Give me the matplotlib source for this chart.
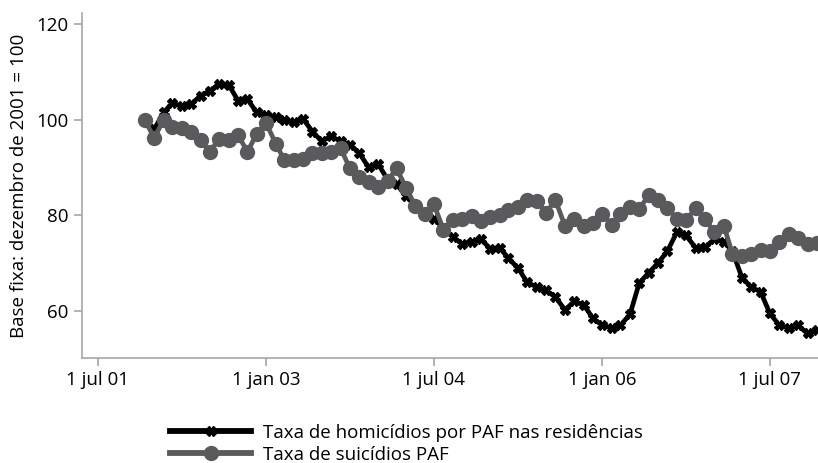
import matplotlib

# Use non-GUI backend
matplotlib.use('Agg')

import datetime as dt
import matplotlib.pyplot as plt
import matplotlib.dates as mdates

plt.rcParams['font.family'] = ['Open Sans', 'DejaVu Sans']

# -----------------------------
# DATA (monthly, dez 2001 = 100)
# -----------------------------

start_year = 2001
start_month = 12

homicidios = [
    100, 98, 101.5, 103.5, 102.8, 103.2, 105, 106, 107.5, 107.3,
    104, 104.3, 101.5, 101, 100.5, 100, 99.5, 100.2, 97.5, 95.5,
    96.5, 95.5, 94.8, 93, 90, 90.7, 87.5, 86.5, 84, 82,
    80.5, 79.3, 77.3, 75.5, 74, 74.5, 75, 73, 73.2, 71,
    69, 66, 65, 64.3, 63, 60.2, 62, 61.3, 58.5, 57,
    56.5, 57, 59.3, 65.8, 68, 70, 72.5, 76.5, 75.8, 73.2,
    73.3, 75, 74.5, 72.5, 67, 65, 64, 59.5, 57, 56.5,
    57, 55.3, 56,
]

suicidios = [
    100, 96.2, 100, 98.5, 98.3, 97.5, 95.8, 93.3, 96, 95.8,
    96.8, 93.3, 97, 99.3, 95, 91.6, 91.6, 91.8, 93, 93,
    93.2, 94, 89.8, 88, 87, 86, 87.2, 89.8, 85.8, 82,
    80.3, 82.3, 77, 79, 79.2, 79.8, 78.8, 79.7, 80, 81.2,
    81.7, 83.3, 83, 80.5, 83.2, 77.8, 79.2, 77.8, 78.3, 80.2,
    78, 80.3, 81.7, 81.3, 84.2, 83.3, 81.5, 79.3, 79, 81.5,
    79.3, 76.5, 77.8, 72, 71.5, 72, 72.8, 72.5, 74.5, 76,
    75.3, 74, 74.3,
]

tick_dates = [
    dt.date(2001, 7, 1), dt.date(2003, 1, 1), dt.date(2004, 7, 1),
    dt.date(2006, 1, 1), dt.date(2007, 7, 1),
]
tick_labels = ["1 jul 01", "1 jan 03", "1 jul 04", "1 jan 06", "1 jul 07"]

y_ticks = [60, 80, 100, 120]

labels = [
    "Taxa de homicídios por PAF nas residências",
    "Taxa de suicídios PAF",
]

# build month dates
dates = []
for k in range(len(homicidios)):
    m = start_month - 1 + k
    dates.append(dt.date(start_year + m // 12, m % 12 + 1, 1))

# -----------------------------
# PLOT
# -----------------------------

gray = "#5a5a5c"
axis_gray = "#a6a6a6"
fs = 13.5

fig = plt.figure(figsize=(8.18, 4.63), dpi=100)
ax = fig.add_axes([0.1, 0.227, 0.9, 0.745])

ax.plot(dates, homicidios, color="black", linewidth=3.4,
        marker="X", markersize=6.5, label=labels[0], zorder=3)
ax.plot(dates, suicidios, color=gray, linewidth=3.4,
        marker="o", markersize=10, label=labels[1], zorder=4)

ax.set_xlim(dt.date(2001, 5, 10), dt.date(2007, 12, 5))
ax.set_ylim(50.2, 122.3)

ax.set_xticks([mdates.date2num(d) for d in tick_dates])
ax.set_xticklabels(tick_labels)
ax.set_yticks(y_ticks)

for side in ["top", "right"]:
    ax.spines[side].set_visible(False)
for side in ["left", "bottom"]:
    ax.spines[side].set_color(axis_gray)
    ax.spines[side].set_linewidth(1.2)

ax.tick_params(axis="both", colors=axis_gray, labelcolor="black",
               labelsize=fs, length=6, width=1.2)

ax.set_ylabel("Base fixa: dezembro de 2001 = 100", fontsize=fs, labelpad=6)

leg = fig.legend(loc="upper left", bbox_to_anchor=(0.199, 0.101), frameon=False,
                 fontsize=fs, handlelength=4.3, numpoints=1, labelspacing=0.23,
                 handletextpad=0.64, borderaxespad=0)
for line in leg.get_lines():
    line.set_linewidth(4.2)

plt.savefig("out.png", dpi=100)
plt.close()
